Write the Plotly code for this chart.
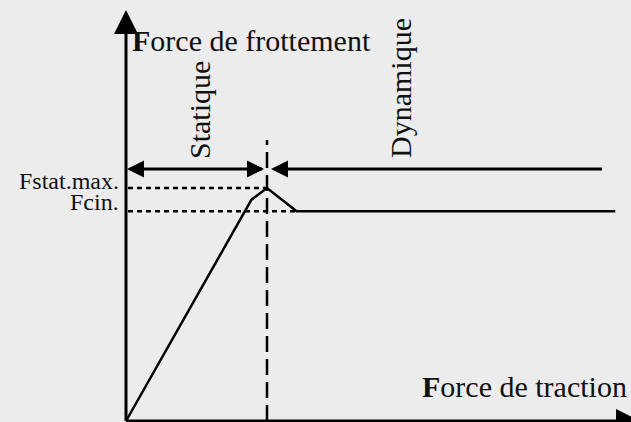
import plotly.graph_objects as go

# Force de frottement en fonction de la force de traction (unités arbitraires)
traction = [0, 0.89, 1.0, 1.21, 3.47]
frottement = [0, 0.95, 1.0, 0.90, 0.90]

f_stat_max = 1.0
f_cin = 0.90
x_limite = 1.0  # traction au moment du décrochage

labels_niveaux = ["Fstat.max.", "Fcin."]
labels_regimes = ["Statique", "Dynamique"]
titre_y = "<b>F</b>orce de frottement"
titre_x = "<b>F</b>orce de traction"

# mise en page : origine et échelle en pixels
W, H = 631, 422
X0, Y0 = 126, 421
SX, SY = 141, 233


def dx(p):
    return (p - X0) / SX


def dy(p):
    return (Y0 - p) / SY


NOIR = "#000000"
POLICE = "Liberation Serif"

fig = go.Figure()

# courbe
fig.add_trace(go.Scatter(x=traction, y=frottement, mode="lines",
                         line=dict(color=NOIR, width=2.5)))

# pointillés horizontaux vers l'axe des ordonnées
fig.add_trace(go.Scatter(x=[dx(128), x_limite], y=[f_stat_max, f_stat_max], mode="lines",
                         line=dict(color=NOIR, width=2.5, dash="5px,4px")))
fig.add_trace(go.Scatter(x=[dx(128), traction[3]], y=[f_cin, f_cin], mode="lines",
                         line=dict(color=NOIR, width=2.5, dash="5px,4px")))
# séparation statique / dynamique
fig.add_trace(go.Scatter(x=[x_limite, x_limite], y=[0, dy(140)], mode="lines",
                         line=dict(color=NOIR, width=2.5, dash="16px,7px")))

# axes avec flèches
fig.add_trace(go.Scatter(x=[0, 0], y=[0, dy(14)], mode="lines",
                         line=dict(color=NOIR, width=3)))
fig.add_trace(go.Scatter(x=[0], y=[dy(10)], mode="markers",
                         marker=dict(symbol="arrow-up", size=24, color=NOIR, line_width=0)))
fig.add_trace(go.Scatter(x=[0, dx(628)], y=[0, 0], mode="lines",
                         line=dict(color=NOIR, width=3)))
fig.add_trace(go.Scatter(x=[dx(640)], y=[0], mode="markers",
                         marker=dict(symbol="arrow-right", size=24, color=NOIR, line_width=0)))

# flèches des régimes
y_r = dy(169)
fig.add_trace(go.Scatter(x=[dx(130), dx(262)], y=[y_r, y_r], mode="lines",
                         line=dict(color=NOIR, width=3)))
fig.add_trace(go.Scatter(x=[dx(274), dx(602)], y=[y_r, y_r], mode="lines",
                         line=dict(color=NOIR, width=3)))
fig.add_trace(go.Scatter(x=[dx(127), dx(271)], y=[y_r, y_r], mode="markers",
                         marker=dict(symbol="arrow-left", size=17, color=NOIR, line_width=0)))
fig.add_trace(go.Scatter(x=[dx(264)], y=[y_r], mode="markers",
                         marker=dict(symbol="arrow-right", size=17, color=NOIR, line_width=0)))

# textes
txt = dict(color="#111111", family=POLICE)
fig.add_annotation(x=dx(130), y=dy(40), text=titre_y, showarrow=False,
                   xanchor="left", yanchor="middle", font=dict(size=30, **txt))
fig.add_annotation(x=dx(420), y=dy(386), text=titre_x, showarrow=False,
                   xanchor="left", yanchor="middle", font=dict(size=30, **txt))
fig.add_annotation(x=dx(121), y=f_stat_max, yshift=7, text=labels_niveaux[0], showarrow=False,
                   xanchor="right", yanchor="middle", font=dict(size=24, **txt))
fig.add_annotation(x=dx(121), y=f_cin, yshift=9, text=labels_niveaux[1], showarrow=False,
                   xanchor="right", yanchor="middle", font=dict(size=24, **txt))
fig.add_annotation(x=dx(199), y=dy(110), text=labels_regimes[0], showarrow=False,
                   textangle=-90, font=dict(size=30, **txt))
fig.add_annotation(x=dx(400), y=dy(88), text=labels_regimes[1], showarrow=False,
                   textangle=-90, font=dict(size=30, **txt))

fig.update_xaxes(range=[dx(0), dx(W)], visible=False, fixedrange=True)
fig.update_yaxes(range=[dy(H), dy(0)], visible=False, fixedrange=True)
fig.update_layout(
    width=W, height=H,
    margin=dict(l=0, r=0, t=0, b=0),
    paper_bgcolor="#ececec", plot_bgcolor="#ececec",
    showlegend=False,
)

# pas de marge autour du graphique dans la page
fig.write_html("out.html", config={"displayModeBar": False},
               post_script="document.body.style.margin='0';document.body.style.overflow='hidden';")
